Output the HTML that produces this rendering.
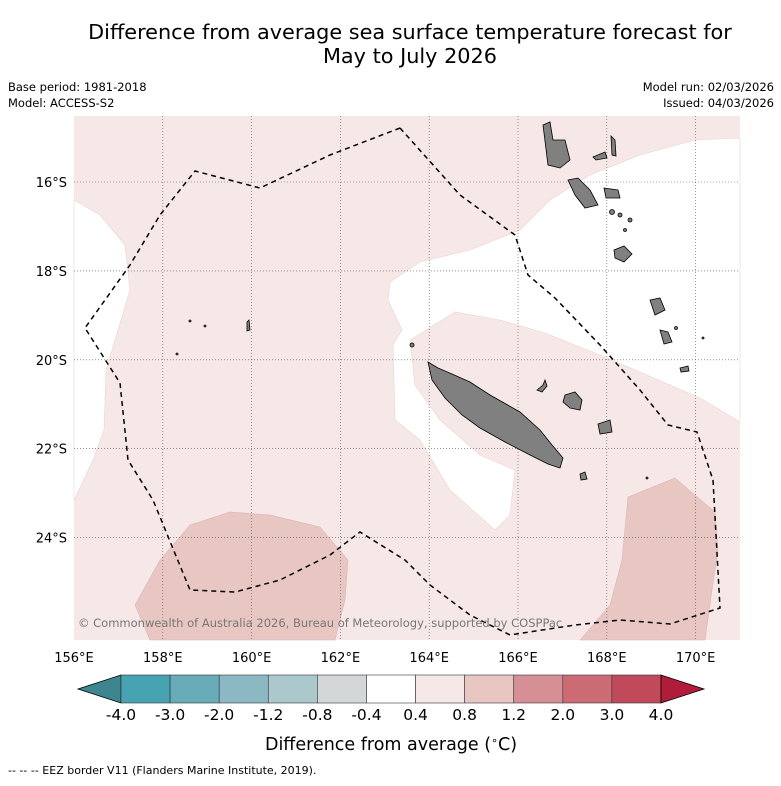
<!DOCTYPE html>
<html><head><meta charset="utf-8"><style>
body{margin:0;background:#fff;font-family:"Liberation Sans","DejaVu Sans",sans-serif}
svg text{font-family:"DejaVu Sans","Liberation Sans",sans-serif}
</style></head><body>
<svg width="781" height="781" viewBox="0 0 781 781">
<text x="410" y="39" font-size="20.8" text-anchor="middle">Difference from average sea surface temperature forecast for</text>
<text x="410" y="63" font-size="20.8" text-anchor="middle">May to July 2026</text>
<text x="8" y="91" font-size="11.5">Base period: 1981-2018</text>
<text x="8" y="107" font-size="11.5">Model: ACCESS-S2</text>
<text x="774" y="91" font-size="11.5" text-anchor="end">Model run: 02/03/2026</text>
<text x="774" y="107" font-size="11.5" text-anchor="end">Issued: 04/03/2026</text>
<g>
<rect x="74" y="116" width="666" height="524" fill="#f5e8e6"/>
<polygon fill="#fff" stroke="#e8d6d3" stroke-width="0.6" points="74,200 100,215 125,245 130,290 118,330 106,370 104,430 93,460 74,500"/>
<polygon fill="#fff" stroke="#e8d6d3" stroke-width="0.6" points="740,138 695,140 640,155 590,175 550,200 520,230 470,250 420,262 390,282 388,300 402,330 393,345 395,420 420,440 450,490 495,530 510,515 515,470 480,455 440,420 415,385 410,340 455,312 500,320 545,333 600,355 640,372 700,398 740,422"/>
<polygon fill="#e8c7c2" stroke="#dab" stroke-width="0.5" points="135,605 160,560 190,525 230,512 270,515 320,527 348,560 345,600 335,640 150,640"/>
<polygon fill="#e8c7c2" stroke="#dab" stroke-width="0.5" points="580,640 610,605 622,560 628,497 675,478 715,512 718,550 712,590 705,640"/>
<g id="grid" stroke="#555" stroke-width="0.6" stroke-dasharray="1,2"></g>
<g fill="#808080" stroke="#000" stroke-width="0.8">
<polygon points="428,362 438,368 452,374 470,382 490,395 520,412 540,430 552,445 563,458 560,468 548,464 530,455 505,442 480,428 462,415 445,398 432,380"/>
<polygon points="565,395 575,392 582,400 580,410 570,408 563,402"/>
<polygon points="598,424 610,420 612,432 600,434"/>
<polygon points="537,390 543,385 545,380 547,386 542,392"/>
<polygon points="543,125 550,122 553,140 565,140 570,160 560,168 548,165"/>
<polygon points="568,180 578,178 590,190 598,205 585,208 575,195"/>
<polygon points="611,136 615,140 616,156 612,155"/>
<polygon points="593,157 605,152 607,158 596,160"/>
<polygon points="604,188 618,190 620,198 606,198"/>
<polygon points="614,250 624,246 632,254 624,262 615,258"/>
<polygon points="650,300 660,298 665,310 655,315"/>
<polygon points="660,330 668,332 672,342 664,344"/>
<polygon points="680,368 688,366 689,371 681,372"/>
<polygon points="580,474 585,472 587,479 581,480"/>
<polygon points="247,322 249,320 250,330 247,331"/>
<circle cx="612" cy="212" r="2.5"/><circle cx="620" cy="215" r="2"/><circle cx="630" cy="220" r="2"/><circle cx="625" cy="230" r="1.5"/><circle cx="412" cy="345" r="2"/><circle cx="190" cy="321" r="1"/><circle cx="205" cy="326" r="1"/><circle cx="177" cy="354" r="1"/><circle cx="676" cy="328" r="1.5"/><circle cx="703" cy="338" r="1"/><circle cx="647" cy="478" r="1"/>
</g>
<polyline fill="none" stroke="#000" stroke-width="1.5" stroke-dasharray="5,4" points="400,128 460,195 515,235 528,275 555,298 600,345 640,390 668,425 697,432 713,480 720,608 670,624 620,620 575,625 510,635 470,615 430,585 405,560 360,532 330,555 280,580 235,592 190,590 153,500 128,460 120,383 85,328 130,265 160,215 195,171 260,188 330,155 400,128"/>
<text x="78" y="627" font-size="11.5" fill="#777">© Commonwealth of Australia 2026, Bureau of Meteorology, supported by COSPPac</text>
</g>
<g id="axes" font-size="13"></g>
<g id="cbar"></g>
<text x="391" y="750" font-size="17.5" text-anchor="middle">Difference from average (<tspan font-size="11" dy="-6">∘</tspan><tspan dy="6">C)</tspan></text>
<text x="8" y="774" font-size="11">-- -- -- EEZ border V11 (Flanders Marine Institute, 2019).</text>
</svg>
<script>
const lonTicks=[156,158,160,162,164,166,168,170];
const latTicks=[16,18,20,22,24];
const cbarTicks=["-4.0","-3.0","-2.0","-1.2","-0.8","-0.4","0.4","0.8","1.2","2.0","3.0","4.0"];
const cbarColors=["#47a2b1","#68abb9","#8cb8c4","#abc8cc","#d3d7d8","#ffffff","#f5e8e6","#e8c7c2","#d68f95","#cd6b75","#c04a5a"];
const NS="http://www.w3.org/2000/svg";
const xOf=lon=>74+(lon-156)*44.4, yOf=lat=>182+(lat-16)*44.45;
const grid=document.getElementById('grid'), axes=document.getElementById('axes'), cb=document.getElementById('cbar');
function mk(tag,attrs,parent){const e=document.createElementNS(NS,tag);for(const k in attrs)e.setAttribute(k,attrs[k]);parent.appendChild(e);return e;}
lonTicks.forEach(l=>{
 const x=xOf(l);
 if(l>156){const g=mk('line',{x1:x,x2:x,y1:116,y2:640},grid);
 
 }
 const t=mk('text',{x:x,y:662,'text-anchor':'middle'},axes);t.textContent=l+'°E';
 
 
});
latTicks.forEach(l=>{
 const y=yOf(l);
 const g=mk('line',{x1:74,x2:740,y1:y,y2:y},grid);
 
 
 const t=mk('text',{x:67,y:y+5,'text-anchor':'end'},axes);t.textContent=l+'°S';
 
 
});
const x0=121,x1=661,y0=675,h=28,w=(x1-x0)/cbarColors.length;
const lt=mk('polygon',{points:`${x0},${y0} ${x0},${y0+h} 78,${y0+h/2}`,fill:'#3d8690',stroke:'#000','stroke-width':0.8},cb);


cbarColors.forEach((c,i)=>{
 const r=mk('rect',{x:x0+i*w,y:y0,width:w,height:h,fill:c,stroke:'#333','stroke-width':0.6},cb);
 
 
});
const rt=mk('polygon',{points:`${x1},${y0} ${x1},${y0+h} 704,${y0+h/2}`,fill:'#b01c3a',stroke:'#000','stroke-width':0.8},cb);


cbarTicks.forEach((s,i)=>{
 const t=mk('text',{x:x0+i*w,y:y0+h+17,'text-anchor':'middle','font-size':15.5},cb);t.textContent=s;
 
 
});
</script>
</body></html>
